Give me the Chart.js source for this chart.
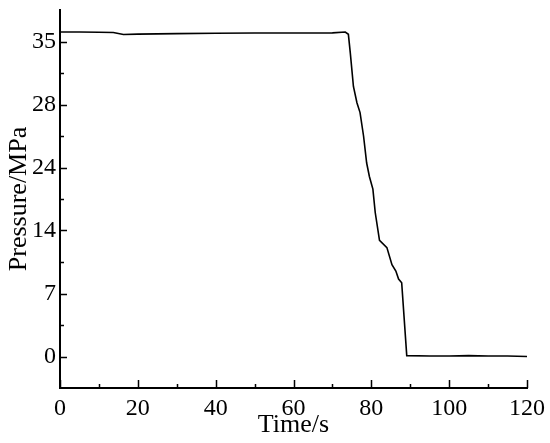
<!DOCTYPE html>
<html>
<head>
<meta charset="utf-8">
<script src="https://cdn.jsdelivr.net/npm/chart.js@4/dist/chart.umd.min.js"></script>
<style>
    html, body { margin: 0; padding: 0; background: #fff; }
    #wrap { width: 550px; height: 443px; }
</style>
</head>
<body>
<div id="wrap"><canvas id="pressureChart"></canvas></div>
<script>
let timeS = [0, 5, 10, 13.7, 16.3, 20, 30, 40, 50, 61.7, 70, 73.3, 74.1, 74.6, 75.4, 76.3, 77.1,
    78.0, 78.8, 79.5, 80.4, 81.0, 82.1, 84.0, 85.3, 86.3, 87.0, 87.8, 89.1, 95, 100, 105, 110, 115, 120];
let pressureMPa = [36.05, 36.05, 36.03, 36.0, 35.78, 35.82, 35.88, 35.92, 35.94, 35.95, 35.96, 36.05, 35.8, 33.7,
    30.0, 28.2, 27.1, 24.5, 21.5, 20.0, 18.6, 16.0, 12.9, 12.1, 10.2, 9.5, 8.6, 8.2, 0.1, 0.05, 0.05, 0.1, 0.05, 0.05, 0.0];

// y ticks sit every 7 MPa, labels printed as in the original figure
let yTickValues = [0, 7, 14, 21, 28, 35];
let yTickLabels = ['0', '7', '14', '24', '28', '35'];
let xTickValues = [0, 20, 40, 60, 80, 100, 120];

let fontFamily = '"Liberation Serif", "Times New Roman", serif';

// inward tick marks (major + minor) drawn against the library scales
const innerTicks = {
    id: 'innerTicks',
    afterDraw(chart) {
        const ctx = chart.ctx;
        const xs = chart.scales.x, ys = chart.scales.y;
        const area = chart.chartArea;
        ctx.save();
        ctx.strokeStyle = '#000';
        ctx.lineWidth = 1.5;
        ctx.beginPath();
        for (let v = 0; v <= 120; v += 10) {
            let px = Math.round(xs.getPixelForValue(v)) + 0.5;
            let len = (v % 20 === 0) ? 8 : 4;
            ctx.moveTo(px, area.bottom);
            ctx.lineTo(px, area.bottom - len);
        }
        for (let v = 0; v <= 35; v += 3.5) {
            let py = Math.round(ys.getPixelForValue(v)) + 0.5;
            let len = (Math.abs(v % 7) < 0.01) ? 7 : 4;
            ctx.moveTo(area.left, py);
            ctx.lineTo(area.left + len, py);
        }
        ctx.stroke();
        ctx.restore();
    }
};

new Chart(document.getElementById('pressureChart'), {
    type: 'line',
    data: {
        datasets: [{
            data: timeS.map(function (t, i) { return { x: t, y: pressureMPa[i] }; }),
            borderColor: '#000',
            borderWidth: 1.6,
            pointRadius: 0,
            tension: 0,
            fill: false
        }]
    },
    options: {
        responsive: true,
        maintainAspectRatio: false,
        animation: false,
        layout: { padding: { left: 0, right: 23, top: 10, bottom: 0 } },
        plugins: {
            legend: { display: false },
            tooltip: { enabled: false }
        },
        scales: {
            x: {
                type: 'linear',
                min: 0,
                max: 120,
                afterBuildTicks: function (scale) {
                    scale.ticks = xTickValues.map(function (v) { return { value: v }; });
                },
                afterFit: function (scale) {
                    scale.height = 55;
                    scale.paddingLeft = 0;
                    scale.paddingRight = 0;
                },
                grid: { display: false, drawTicks: false },
                border: { display: true, color: '#000', width: 2 },
                ticks: {
                    color: '#000',
                    padding: 6,
                    maxRotation: 0,
                    font: { family: fontFamily, size: 24 }
                },
                title: {
                    display: true,
                    text: 'Time/s',
                    color: '#000',
                    padding: { top: 0, bottom: 2 },
                    font: { family: fontFamily, size: 26 }
                }
            },
            y: {
                type: 'linear',
                min: -3.5,
                max: 38.5,
                afterBuildTicks: function (scale) {
                    scale.ticks = yTickValues.map(function (v) { return { value: v }; });
                },
                afterFit: function (scale) {
                    scale.width = 60;
                    scale.paddingTop = 0;
                    scale.paddingBottom = 0;
                },
                grid: { display: false, drawTicks: false },
                border: { display: true, color: '#000', width: 2 },
                ticks: {
                    color: '#000',
                    padding: 4,
                    font: { family: fontFamily, size: 24 },
                    callback: function (value) {
                        let idx = yTickValues.indexOf(value);
                        return idx >= 0 ? yTickLabels[idx] : '';
                    }
                },
                title: {
                    display: true,
                    text: 'Pressure/MPa',
                    color: '#000',
                    padding: { top: 4, bottom: 0 },
                    font: { family: fontFamily, size: 26 }
                }
            }
        }
    },
    plugins: [innerTicks]
});
</script>
</body>
</html>
